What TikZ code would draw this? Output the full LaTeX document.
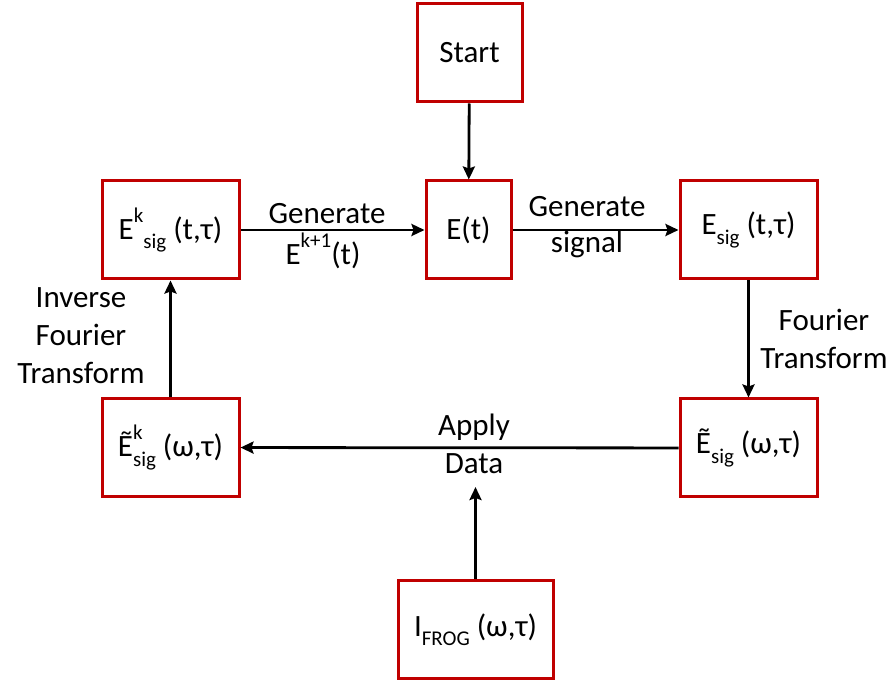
\documentclass[tikz,border=0pt]{standalone}
\usepackage{fontspec}
\setmainfont{Carlito}
\usetikzlibrary{arrows.meta}
\definecolor{boxred}{RGB}{192,0,0}
\newcommand{\lowsub}[1]{\raisebox{-0.3em}{\fontsize{21}{21}\selectfont #1}}
\newcommand{\highsup}[1]{\raisebox{0.55em}{\fontsize{21}{21}\selectfont #1}}
\begin{document}
\begin{tikzpicture}[x=1pt,y=-1pt,
  every node/.style={font=\fontsize{31}{38}\selectfont, inner sep=0pt},
  stepbox/.style={draw=boxred, line width=3pt, minimum height=98pt},
  flow/.style={line width=2.8pt, -{Stealth[length=13pt,width=12pt,inset=2pt]}},
  lbl/.style={align=center}]
\useasboundingbox (0,0) rectangle (895,684);
\node[stepbox, minimum width=105pt] (start) at (469.5,53) {Start};
\node[stepbox, minimum width=85pt] (et) at (468.5,230) {E(t)};
\node[stepbox, minimum width=137pt] (ek) at (170.5,230) {E\highsup{k}\lowsub{sig} (t,τ)};
\node[stepbox, minimum width=137pt] (esig) at (748.5,230) {E\lowsub{sig} (t,τ)};
\node[stepbox, minimum width=137pt] (ekw) at (170.5,447.5) {Ẽ\rlap{\highsup{k}}\lowsub{sig} (ω,τ)};
\node[stepbox, minimum width=137pt] (esigw) at (748.5,448) {Ẽ\lowsub{sig} (ω,τ)};
\node[stepbox, minimum width=155pt] (ifrog) at (475.5,629.5) {I\lowsub{FROG} (ω,τ)};
\coordinate (dataend) at (475.5,487);
\draw[flow] (start) -- (et);
\draw[flow] (ek) -- (et);
\draw[flow] (et) -- (esig);
\draw[flow] (esig) -- (esigw);
\draw[flow] (esigw) -- (ekw);
\draw[flow] (ekw) -- (ek);
\draw[flow] (ifrog) -- (dataend);
\node[lbl] (g1) at (327,214) {Generate};
\node[lbl] (g1b) at (323,251) {E\highsup{k+1}(t)};
\node[lbl] (g2) at (587,207) {Generate};
\node[lbl] (g2b) at (587,244) {signal};
\node[lbl] (ft) at (824,339) {Fourier\\Transform};
\node[lbl] (ad) at (474,444) {Apply\\Data};
\node[lbl] (ift) at (81,336) {Inverse\\Fourier\\Transform};
\end{tikzpicture}
\end{document}
